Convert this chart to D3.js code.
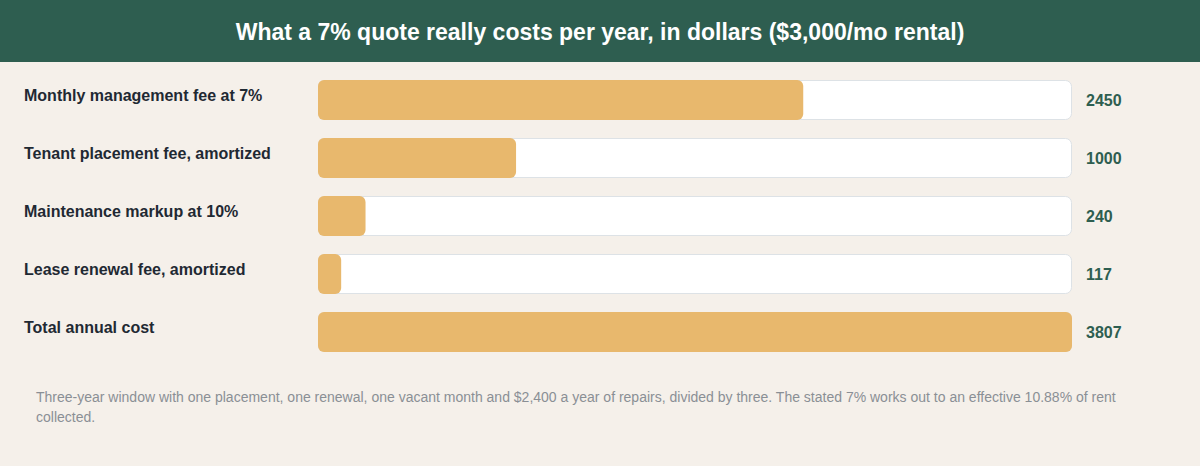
<!DOCTYPE html>
<html>
<head>
<meta charset="utf-8">
<script src="https://cdn.jsdelivr.net/npm/d3@7"></script>
<style>
  html, body { margin: 0; padding: 0; background: #f5f0ea; }
  svg { display: block; font-family: "Liberation Sans", Arial, sans-serif; }
</style>
</head>
<body>
<div id="chart"></div>
<script>
// data
var categories = ["Monthly management fee at 7%", "Tenant placement fee, amortized", "Maintenance markup at 10%", "Lease renewal fee, amortized", "Total annual cost"];
var values = [2450, 1000, 240, 117, 3807];
var title = "What a 7% quote really costs per year, in dollars ($3,000/mo rental)";
var note = "Three-year window with one placement, one renewal, one vacant month and $2,400 a year of repairs, divided by three. The stated 7% works out to an effective 10.88% of rent collected.";

var width = 1200, height = 466;
var color = {head: "#2e5e50", bar: "#e8b86d", track: "#ffffff", border: "#dde2e6", label: "#1f2933", value: "#2e5e50", note: "#8a8f95"};

var svg = d3.select("#chart").append("svg")
    .attr("width", width)
    .attr("height", height);

svg.append("rect")
    .attr("width", width).attr("height", height)
    .attr("fill", "#f5f0ea");

// header
svg.append("rect")
    .attr("width", width).attr("height", 62)
    .attr("fill", color.head);
svg.append("text")
    .attr("x", width / 2).attr("y", 40)
    .attr("text-anchor", "middle")
    .attr("font-size", "23px").attr("font-weight", "bold")
    .attr("fill", "#ffffff")
    .text(title);

// scales: band step 58, bar height 40
var x = d3.scaleLinear().domain([0, d3.max(values)]).range([318, 1072]);
var y = d3.scaleBand().domain(categories)
    .range([80, 80 + 58 * categories.length - 18])
    .paddingInner(18 / 58).paddingOuter(0);

var row = svg.append("g").selectAll(".row")
    .data(categories)
  .enter().append("g")
    .attr("class", "row");

// track
row.append("rect")
    .attr("x", x(0) + 0.5)
    .attr("y", function (d) { return y(d) + 0.5; })
    .attr("width", x.range()[1] - x(0) - 1)
    .attr("height", y.bandwidth() - 1)
    .attr("rx", 6)
    .attr("fill", color.track)
    .attr("stroke", color.border);

// value bar
row.append("rect")
    .attr("x", x(0))
    .attr("y", function (d) { return y(d); })
    .attr("width", function (d, i) { return x(values[i]) - x(0); })
    .attr("height", y.bandwidth())
    .attr("rx", 6)
    .attr("fill", color.bar);

// label
row.append("text")
    .attr("x", 24)
    .attr("y", function (d) { return y(d) + 21; })
    .attr("font-size", "16px").attr("font-weight", "bold")
    .attr("fill", color.label)
    .text(function (d) { return d; });

// value text
row.append("text")
    .attr("x", 1086)
    .attr("y", function (d) { return y(d) + 26; })
    .attr("font-size", "16px").attr("font-weight", "bold")
    .attr("fill", color.value)
    .text(function (d, i) { return values[i]; });

// footnote, wrapped
var noteText = svg.append("text")
    .attr("x", 36).attr("y", 402)
    .attr("font-size", "14px")
    .attr("fill", color.note);
var words = note.split(" "), line = [];
var tspan = noteText.append("tspan").attr("x", 36).attr("dy", 0);
words.forEach(function (w) {
  line.push(w);
  tspan.text(line.join(" "));
  if (tspan.node().getComputedTextLength() > 1090 && line.length > 1) {
    line.pop();
    tspan.text(line.join(" "));
    line = [w];
    tspan = noteText.append("tspan").attr("x", 36).attr("dy", 20).text(w);
  }
});
</script>
</body>
</html>
